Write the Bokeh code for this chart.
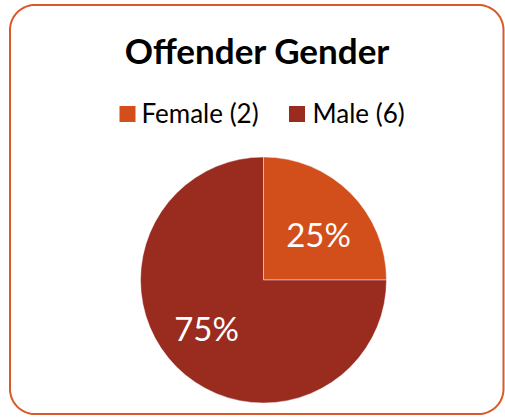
import numpy as np
from bokeh.plotting import figure
from bokeh.models import Range1d
from bokeh.core.properties import value
from bokeh.embed import file_html
from bokeh.resources import INLINE

# ---- data ----
title_text = "Offender Gender"
categories = ["Female", "Male"]
counts = [2, 6]
colors = ["#D24E1A", "#9A2B1F"]

# ---- figure in window-pixel coordinates (y up: data_y = 417 - screen_y) ----
W, H = 505, 417
WIN_H = 417
p = figure(width=W, height=H, output_backend="svg", toolbar_location=None,
           x_range=Range1d(0, W), y_range=Range1d(0, H),
           min_border=0)
p.axis.visible = False
p.grid.visible = False
p.outline_line_color = None
p.background_fill_color = "white"
p.border_fill_color = "white"

def sy(s):
    return WIN_H - s

# rounded frame
x0, x1, y0, y1, r = 9.5, 503, sy(413.5), sy(4.5), 25
xs, ys = [], []
for cx, cy, a0 in [(x1 - r, y1 - r, 0), (x0 + r, y1 - r, 90), (x0 + r, y0 + r, 180), (x1 - r, y0 + r, 270)]:
    t = np.radians(np.linspace(a0, a0 + 90, 20))
    xs.extend(cx + r * np.cos(t))
    ys.extend(cy + r * np.sin(t))
p.patch(xs, ys, fill_color=None, line_color="#D95A28", line_width=2)

# title
p.text(x=[257], y=[sy(49)], text=[title_text], text_font=value("Lato"),
       text_font_style="bold", text_font_size="35px", text_align="center",
       text_baseline="middle", text_color="black")

# legend
leg_sq_x = [127, 296.5]
leg_tx_x = [141, 312]
leg_y = sy(113.5)
for i, (cat, cnt) in enumerate(zip(categories, counts)):
    p.rect(x=[leg_sq_x[i]], y=[leg_y], width=16, height=16, fill_color=colors[i], line_color=None)
    p.text(x=[leg_tx_x[i]], y=[leg_y + 1], text=[f"{cat} ({cnt})"], text_font=value("Lato"),
           text_font_size="26px", text_align="left", text_baseline="middle", text_color="black")

# pie
total = sum(counts)
fracs = np.array(counts) / total
cum = np.concatenate([[0], np.cumsum(fracs)])
start = np.pi / 2 - cum[:-1] * 2 * np.pi
end = np.pi / 2 - cum[1:] * 2 * np.pi
cx, cy, rad = 263, sy(279.5), 123
p.wedge(x=[cx] * len(counts), y=[cy] * len(counts), radius=rad,
        start_angle=list(start), end_angle=list(end), direction="clock",
        fill_color=colors, line_color="white", line_alpha=0.45, line_width=1)

# percent labels
label_pos = [(318, sy(233)), (206, sy(327))]
for (lx, ly), f in zip(label_pos, fracs):
    p.text(x=[lx], y=[ly], text=[f"{round(f * 100)}%"], text_font=value("Lato"),
           text_font_size="33px", text_align="center", text_baseline="middle",
           text_color="white")

open("out.html", "w").write(file_html(p, INLINE))
